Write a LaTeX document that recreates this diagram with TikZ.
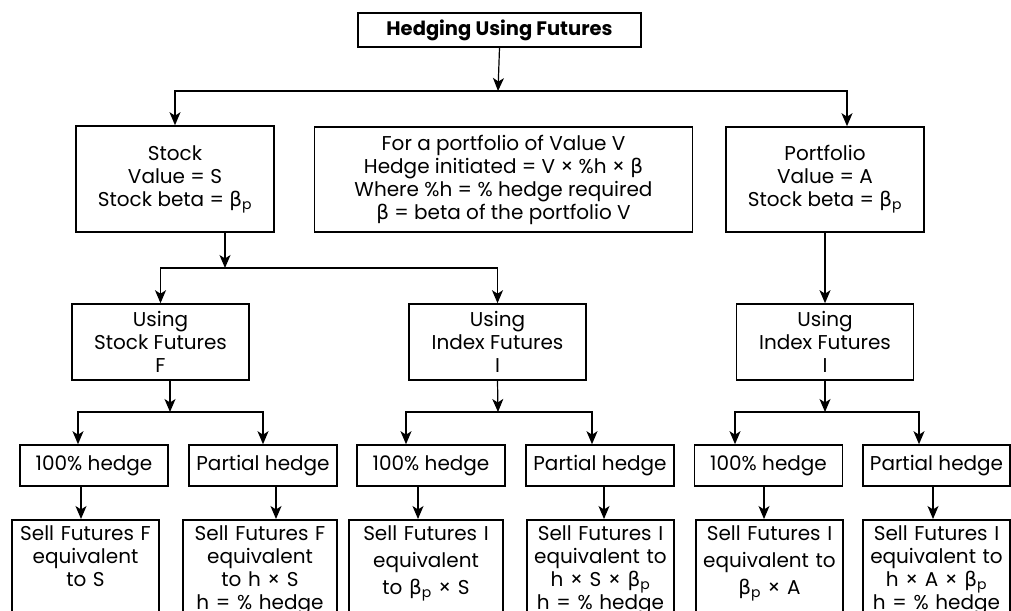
\documentclass[tikz,border=0pt]{standalone}
\usepackage{fontspec}
\setmainfont{Poppins}
\newfontfamily\greekfont{DejaVu Sans}
\usetikzlibrary{arrows.meta}
\newcommand{\betap}{{\greekfont β}\textsubscript{p}}

\begin{document}
\begin{tikzpicture}[x=1pt, y=-1pt,
    box/.style={draw, line width=1.6pt, inner sep=0pt, align=center, font=\fontsize{20}{23}\selectfont},
    sell/.style={box, anchor=north, text width=144pt, text depth=100pt, inner ysep=6pt},
    arr/.style={line width=1.2pt, -{Stealth[length=13pt, width=11pt, inset=3.5pt]}}]
        \useasboundingbox (0,0) rectangle (1011,610);

        % Draw nodes
        \node[box, minimum width=283pt, minimum height=34pt, font=\bfseries\fontsize{19.5}{22}\selectfont] (title) at (499.5,30) {Hedging Using Futures};
        \node[box, minimum width=198pt, minimum height=106pt] (stock) at (175,179) {Stock\\Value = S\\Stock beta = \betap};
        \node[box, minimum width=378pt, minimum height=105pt] (rule) at (503.5,179.5) {For a portfolio of Value V\\Hedge initiated = V × \%h × {\greekfont β}\\Where \%h = \% hedge required\\{\greekfont β} = beta of the portfolio V};
        \node[box, minimum width=198pt, minimum height=105pt] (port) at (825,179.5) {Portfolio\\Value = A\\Stock beta = \betap};

        \node[box, minimum width=177pt, minimum height=76pt] (stockfut) at (160.5,342) {Using\\Stock Futures\\F};
        \node[box, minimum width=177pt, minimum height=76pt] (indexfut) at (497.5,342) {Using\\Index Futures\\I};
        \node[box, minimum width=177pt, minimum height=76pt] (portfut) at (825,342) {Using\\Index Futures\\I};

        \node[box, minimum width=148pt, minimum height=41pt] (full1) at (94,465.5) {100\% hedge};
        \node[box, minimum width=148pt, minimum height=41pt] (part1) at (263,465.5) {Partial hedge};
        \node[box, minimum width=148pt, minimum height=41pt] (full2) at (431,465.5) {100\% hedge};
        \node[box, minimum width=148pt, minimum height=41pt] (part2) at (600,465.5) {Partial hedge};
        \node[box, minimum width=148pt, minimum height=41pt] (full3) at (768.5,465.5) {100\% hedge};
        \node[box, minimum width=147pt, minimum height=41pt] (part3) at (936.5,465.5) {Partial hedge};

        \node[sell, minimum width=147pt] (sell1) at (85.5,519) {Sell Futures F\\equivalent\\to S};
        \node[sell, minimum width=154pt] (sell2) at (260,519) {Sell Futures F\\equivalent\\to h × S\\h = \% hedge};
        \node[sell, minimum width=154pt] (sell3) at (426,519) {Sell Futures I\\[4pt]equivalent\\[4pt]to \betap{} × S};
        \node[sell, minimum width=147pt] (sell4) at (600.5,519) {Sell Futures I\\equivalent to\\h × S × \betap\\h = \% hedge};
        \node[sell, minimum width=147pt] (sell5) at (769.5,519) {Sell Futures I\\[4pt]equivalent to\\[4pt]\betap{} × A};
        \node[sell, minimum width=147pt] (sell6) at (936.5,519) {Sell Futures I\\equivalent to\\h × A × \betap\\h = \% hedge};

        % Branch points
        \coordinate (top) at (498,91);
        \coordinate (stocksplit) at (225,268);
        \coordinate (fsplit) at (170,412);
        \coordinate (isplit) at (498,412);
        \coordinate (psplit) at (825,412);

        % Draw connections
        \draw[arr] (title.south) -- (top);
        \draw[arr] (top) -| (stock.north);
        \draw[arr] (top) -| ([xshift=22pt]port.north);

        \draw[arr] ([xshift=50pt]stock.south) -- (stocksplit);
        \draw[arr] (stocksplit) -| (stockfut.north);
        \draw[arr] (stocksplit) -| (indexfut.north);
        \draw[arr] (port.south) -- (portfut.north);

        \draw[arr] ([xshift=9.5pt]stockfut.south) -- (fsplit);
        \draw[arr] (fsplit) -| ([xshift=-16pt]full1.north);
        \draw[arr] (fsplit) -| (part1.north);
        \draw[arr] (indexfut.south) -- (isplit);
        \draw[arr] (isplit) -| ([xshift=-25pt]full2.north);
        \draw[arr] (isplit) -| ([xshift=-8pt]part2.north);
        \draw[arr] (portfut.south) -- (psplit);
        \draw[arr] (psplit) -| ([xshift=-33.5pt]full3.north);
        \draw[arr] (psplit) -| ([xshift=-17.5pt]part3.north);

        \draw[arr] ([xshift=-13pt]full1.south) -- ([xshift=-4.5pt]sell1.north);
        \draw[arr] ([xshift=13pt]part1.south) -- ([xshift=16pt]sell2.north);
        \draw[arr] ([xshift=-13pt]full2.south) -- ([xshift=-8pt]sell3.north);
        \draw[arr] ([xshift=4pt]part2.south) -- ([xshift=3.5pt]sell4.north);
        \draw[arr] ([xshift=-4.5pt]full3.south) -- ([xshift=-5.5pt]sell5.north);
        \draw[arr] ([xshift=-3.5pt]part3.south) -- ([xshift=-3.5pt]sell6.north);
    \end{tikzpicture}
\end{document}
